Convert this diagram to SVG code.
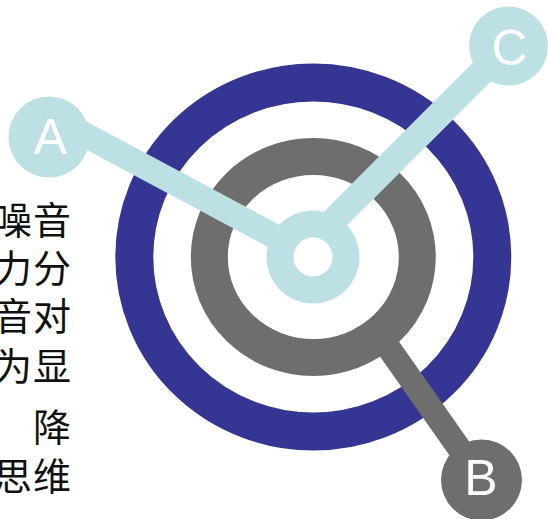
<svg xmlns="http://www.w3.org/2000/svg" width="548" height="519" viewBox="0 0 548 519">
<style>
.ring{fill:none}
.blue{stroke:#353594}
.gray{stroke:#6e6e6e}
.lb{stroke:#bce0e4}
.conn{fill:none;stroke-linecap:butt}
.lbl{font-family:"Liberation Sans",Arial,sans-serif;font-size:50px;fill:#ffffff;text-anchor:middle}
.cjk{font-family:"Noto Sans CJK SC","Noto Sans CJK JP",sans-serif;font-size:38px;fill:#111111;text-anchor:end}
</style>
<rect width="548" height="519" fill="#ffffff"/>
<g id="text">
<text class="cjk" y="234"><tspan x="32">噪</tspan><tspan x="71">音</tspan></text>
<text class="cjk" y="282"><tspan x="32">力</tspan><tspan x="71">分</tspan></text>
<text class="cjk" y="330"><tspan x="32">音</tspan><tspan x="71">对</tspan></text>
<text class="cjk" y="380"><tspan x="32">为</tspan><tspan x="71">显</tspan></text>
<text class="cjk" y="441"><tspan x="71">降</tspan></text>
<text class="cjk" y="490"><tspan x="32">思</tspan><tspan x="71">维</tspan></text>
</g>
<g id="target">
<ellipse class="ring blue" cx="313.3" cy="257" rx="179" ry="174.5" stroke-width="38"/>
<ellipse class="ring gray" cx="313.3" cy="257" rx="104" ry="100.5" stroke-width="37"/>
</g>
<g id="connectors">
<line class="conn gray" x1="381" y1="337" x2="481.5" y2="480" stroke-width="24"/>
<line class="conn lb" x1="313" y1="257" x2="75" y2="129.4" stroke-width="25"/>
<line class="conn lb" x1="318" y1="236" x2="508" y2="46" stroke-width="26"/>
</g>
<g id="center">
<circle cx="313" cy="257" r="46.5" fill="#bce0e4"/>
<circle cx="313" cy="257" r="19.5" fill="#ffffff"/>
</g>
<g id="node-A">
<circle cx="49" cy="137" r="40.5" fill="#bce0e4"/>
<text class="lbl" x="50.5" y="154">A</text>
</g>
<g id="node-C">
<circle cx="508.5" cy="46" r="39.5" fill="#bce0e4"/>
<text class="lbl" x="509.5" y="64.5">C</text>
</g>
<g id="node-B">
<circle cx="481.5" cy="480" r="40.5" fill="#6e6e6e"/>
<text class="lbl" x="481" y="494.5">B</text>
</g>
</svg>
